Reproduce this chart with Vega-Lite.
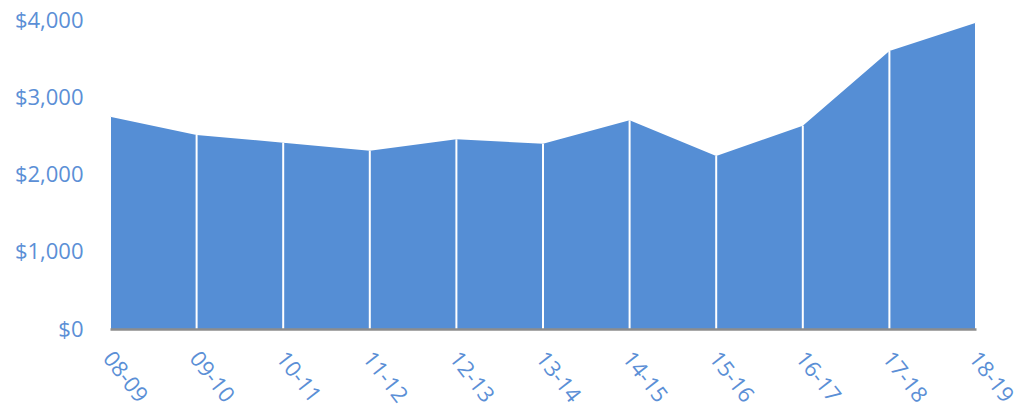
{
  "$schema": "https://vega.github.io/schema/vega-lite/v6.json",
  "width": 866,
  "height": 309,
  "autosize": {"type": "none"},
  "padding": {"left": 110, "top": 20, "right": 48, "bottom": 82},
  "background": "white",
  "config": {
    "view": {"stroke": null},
    "axis": {"labelFont": "Open Sans", "labelFontSize": 22, "labelColor": "#5b8fd6", "grid": false, "ticks": false}
  },
  "data": {
    "values": [
      {"year": "08-09", "amount": 2748},
      {"year": "09-10", "amount": 2511},
      {"year": "10-11", "amount": 2412},
      {"year": "11-12", "amount": 2308},
      {"year": "12-13", "amount": 2456},
      {"year": "13-14", "amount": 2399},
      {"year": "14-15", "amount": 2702},
      {"year": "15-16", "amount": 2239},
      {"year": "16-17", "amount": 2632},
      {"year": "17-18", "amount": 3599},
      {"year": "18-19", "amount": 3965}
    ]
  },
  "encoding": {
    "x": {
      "field": "year",
      "type": "ordinal",
      "scale": {"type": "point", "padding": 0},
      "axis": {
        "title": null,
        "labelAngle": 52,
        "labelAlign": "left",
        "labelBaseline": "middle",
        "labelPadding": 25,
        "labelOffset": -3,
        "domainColor": "#8c8c8c",
        "domainWidth": 2.5,
        "zindex": 1
      }
    },
    "y": {
      "field": "amount",
      "type": "quantitative",
      "scale": {"domain": [0, 4000], "nice": false},
      "axis": {
        "title": null,
        "values": [0, 1000, 2000, 3000, 4000],
        "format": "$,.0f",
        "domain": false,
        "labelPadding": 27
      }
    }
  },
  "layer": [
    {"mark": {"type": "area", "color": "#558ed5", "opacity": 1}},
    {"mark": {"type": "rule", "color": "white", "strokeWidth": 2}, "encoding": {"y2": {"datum": 0}}}
  ]
}
